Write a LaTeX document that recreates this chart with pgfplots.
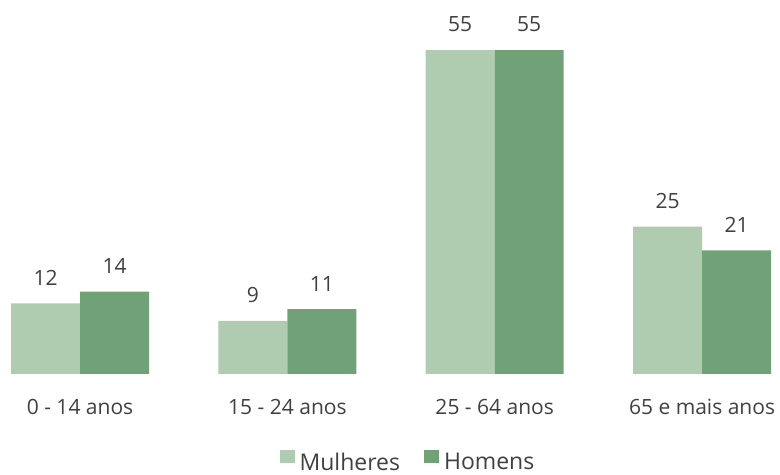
\documentclass[border=0pt]{standalone}
\usepackage{pgfplots}
\pgfplotsset{compat=1.18}
\usepackage{fontspec}
\setmainfont{Open Sans}
\definecolor{lightg}{HTML}{AFCBB0}
\definecolor{darkg}{HTML}{71A277}
\definecolor{txt}{HTML}{404040}
\begin{document}
\begin{tikzpicture}
\begin{axis}[
  name=ax,
  scale only axis,
  width=780pt, height=374pt,
  xmin=-0.386, xmax=3.376,
  ymin=0, ymax=63.5,
  ybar=0pt, bar width=69pt,
  /pgf/number format/assume math mode=true,
  axis line style={draw=none},
  major tick style={draw=none},
  ymajorticks=false,
  xtick={0,1,2,3},
  xticklabels={0 - 14 anos, 15 - 24 anos, 25 - 64 anos, 65 e mais anos},
  xticklabel style={font=\fontsize{21}{21}\selectfont, text=txt, anchor=base, inner sep=0pt, yshift=-36pt},
  nodes near coords,
  every node near coord/.append style={font=\fontsize{21}{21}\selectfont, text=txt, inner sep=0pt, yshift=18pt},
  clip=false,
  legend columns=2,
  legend style={draw=none, fill=none, at={(rel axis cs:0.523,-0.235)}, anchor=center,
    font=\fontsize{23}{23}\selectfont, text=txt,
    /tikz/column 2/.style={column sep=22pt}},
  legend image code/.code={\fill[#1] (0pt,-1pt) rectangle (15pt,12pt); \path (18pt,0pt);},
]
\addplot[fill=lightg, draw=none] coordinates {(0,12) (1,9) (2,55) (3,25)};
\addplot[fill=darkg, draw=none] coordinates {(0,14) (1,11) (2,55) (3,21)};
\legend{Mulheres, Homens}
\end{axis}
\pgfresetboundingbox
\path[use as bounding box] (ax.south west) ++(0,-101pt) rectangle (ax.north east);
\end{tikzpicture}
\end{document}
